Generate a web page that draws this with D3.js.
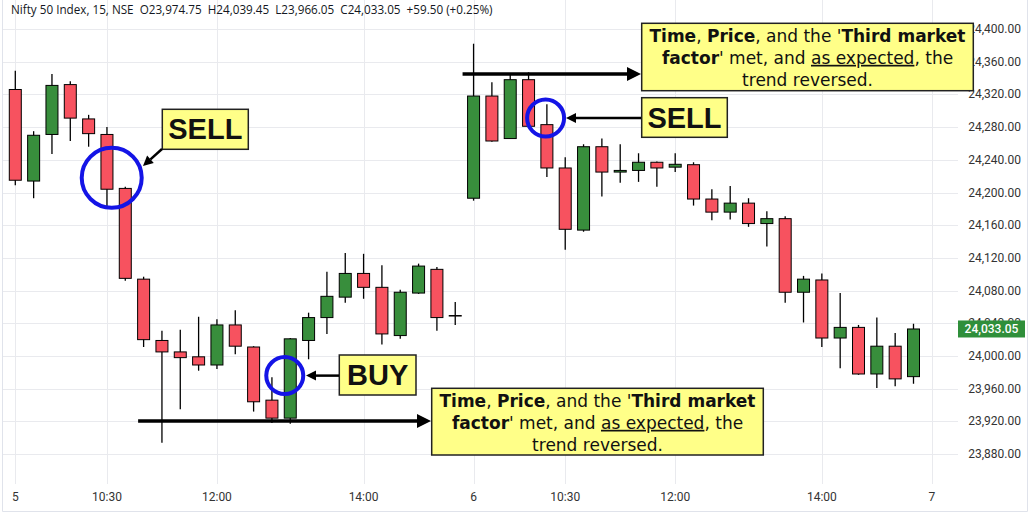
<!DOCTYPE html>
<html>
<head>
<meta charset="utf-8">
<script src="https://cdn.jsdelivr.net/npm/d3@7"></script>
<style>
  body { margin: 0; background: #fff; }
  svg { display: block; }
</style>
</head>
<body>
<svg id="chart" width="1031" height="518"></svg>
<script>
// 15 minute candles, Nifty 50, two sessions (index 0..49)
const opens = [24326, 24214, 24271, 24332, 24290, 24271, 24205, 24094, 24019, 24005,
  23999, 23989, 24038, 24011, 23946, 23924, 24019, 24047, 24072, 24101,
  24084, 24025, 24077, 24106, 24049.5,
  24193, 24318, 24266, 24338, 24283, 24230, 24154, 24256, 24225, 24227,
  24237, 24231, 24234, 24192, 24176, 24187, 24162, 24168, 24078, 24093,
  24022, 24035, 23978, 24012, 23974.75];
const highs = [24349, 24275, 24345, 24336, 24295, 24280, 24207, 24097, 24031, 24032,
  24048, 24045, 24056, 24012, 23974, 24022, 24053, 24103, 24126, 24125,
  24111, 24081, 24113, 24109, 24066,
  24382, 24335, 24346, 24347, 24308, 24243, 24259, 24266, 24259, 24248,
  24238, 24248, 24237, 24204, 24208, 24193, 24177, 24171, 24098, 24101,
  24077, 24038, 24047, 24028, 24039.45];
const lows = [24209, 24193, 24247, 24263, 24256, 24183, 24092, 24011, 23894, 23935,
  23982, 23984, 24002, 23932, 23918, 23917, 23996, 24027, 24065, 24070,
  24014, 24021, 24076, 24031, 24038,
  24190, 24262, 24266, 24279, 24219, 24130, 24152, 24195, 24212, 24213,
  24207, 24225, 24184, 24166, 24167, 24158, 24134, 24065, 24041, 24011,
  23985, 23977, 23961, 23963, 23966.05];
const closes = [24215, 24270, 24331, 24291, 24272, 24204, 24095, 24020, 24005, 23998,
  23989, 24038, 24012, 23944, 23924, 24021, 24047, 24073, 24101, 24084,
  24027, 24078, 24110, 24047, 24049,
  24318, 24263, 24338, 24281, 24230, 24155, 24256, 24225, 24227, 24237,
  24230, 24234.5, 24192, 24176, 24187, 24162, 24168, 24078, 24094, 24022,
  24035, 23978, 24012, 23972, 24033.05];

const timeTickIndex = [0, 5, 11, 19, 25, 30, 36, 44, 50];
const timeTickLabels = ["5", "10:30", "12:00", "14:00", "6", "10:30", "12:00", "14:00", "7"];
const priceTicks = [23880, 23920, 23960, 24000, 24040, 24080, 24120, 24160, 24200,
  24240, 24280, 24320, 24360, 24400];
const lastPrice = 24033.05;
const headerText = "Nifty 50 Index, 15, NSE  O23,974.75  H24,039.45  L23,966.05  C24,033.05  +59.50 (+0.25%)";

const upColor = "#388e3c";
const downColor = "#f7525f";
const gridColor = "#e9eaee";

const svg = d3.select("#chart");
const x = d3.scaleLinear().domain([0, 49]).range([15.3, 913.5]);
const y = d3.scaleLinear().domain([24000, 24400]).range([356, 29]);
const fmt = d3.format(",.2f");

// frame
svg.append("path")
  .attr("d", "M2.5,0V511.5H1027.5V0")
  .attr("fill", "none").attr("stroke", "#e0e3eb");

// grid
svg.append("g").selectAll("line").data(priceTicks).join("line")
  .attr("x1", 3).attr("x2", 958)
  .attr("y1", (d) => Math.round(y(d)) + 0.5).attr("y2", (d) => Math.round(y(d)) + 0.5)
  .attr("stroke", gridColor);
svg.append("g").selectAll("line").data(timeTickIndex).join("line")
  .attr("x1", (d) => Math.round(x(d)) + 0.5).attr("x2", (d) => Math.round(x(d)) + 0.5)
  .attr("y1", 0).attr("y2", 484)
  .attr("stroke", gridColor);

// price axis labels
svg.append("g").selectAll("text").data(priceTicks).join("text")
  .attr("x", 1021).attr("y", (d) => y(d) + 4)
  .attr("text-anchor", "end")
  .attr("font-family", "Roboto, sans-serif").attr("font-size", 12)
  .attr("fill", "#333")
  .text((d) => fmt(d));

// time axis labels
svg.append("g").selectAll("text").data(timeTickIndex).join("text")
  .attr("x", (d) => x(d)).attr("y", 501)
  .attr("text-anchor", "middle")
  .attr("font-family", "Roboto, sans-serif").attr("font-size", 12)
  .attr("fill", "#333")
  .text((d, i) => timeTickLabels[i]);

// candles
const candles = svg.append("g").selectAll("g").data(opens).join("g");
candles.append("line")
  .attr("x1", (d, i) => x(i)).attr("x2", (d, i) => x(i))
  .attr("y1", (d, i) => y(highs[i])).attr("y2", (d, i) => y(lows[i]))
  .attr("stroke", "#000").attr("stroke-width", 1.3);
candles.append("rect")
  .attr("x", (d, i) => x(i) - 6)
  .attr("width", 12)
  .attr("y", (d, i) => y(Math.max(opens[i], closes[i])))
  .attr("height", (d, i) => Math.max(0.5, Math.abs(y(opens[i]) - y(closes[i]))))
  .attr("fill", (d, i) => (closes[i] >= opens[i] ? upColor : downColor))
  .attr("stroke", "#000").attr("stroke-width", 1);

// last price tag
svg.append("rect").attr("x", 958).attr("y", y(lastPrice) - 8.5)
  .attr("width", 67).attr("height", 17).attr("fill", "#2f8f3a");
svg.append("text").attr("x", 991.5).attr("y", y(lastPrice) + 4.5)
  .attr("text-anchor", "middle")
  .attr("font-family", "Roboto, sans-serif").attr("font-size", 12).attr("font-weight", 500)
  .attr("fill", "#fff").text(fmt(lastPrice));

// header
svg.append("text").attr("x", 11).attr("y", 14)
  .attr("font-family", "'Open Sans', sans-serif").attr("font-size", 11.7)
  .attr("fill", "#131722")
  .style("white-space", "pre")
  .text(headerText);

// ---- annotations ----
const ann = svg.append("g");

function arrow(x1, y1, x2, y2, w, head) {
  const a = Math.atan2(y2 - y1, x2 - x1);
  const bx = x2 - head * Math.cos(a), by = y2 - head * Math.sin(a);
  ann.append("line").attr("x1", x1).attr("y1", y1).attr("x2", bx).attr("y2", by)
    .attr("stroke", "#000").attr("stroke-width", w);
  const hw = head * 0.5;
  const p = [[x2, y2],
    [bx + hw * Math.sin(a), by - hw * Math.cos(a)],
    [bx - hw * Math.sin(a), by + hw * Math.cos(a)]];
  ann.append("path").attr("d", "M" + p.join("L") + "Z").attr("fill", "#000");
}

function circle(cx, cy, r) {
  ann.append("circle").attr("cx", cx).attr("cy", cy).attr("r", r)
    .attr("fill", "none").attr("stroke", "#1414e6").attr("stroke-width", 4);
}

function box(x0, y0, w, h) {
  ann.append("rect").attr("x", x0).attr("y", y0).attr("width", w).attr("height", h)
    .attr("fill", "#ffff88").attr("stroke", "#222").attr("stroke-width", 1.5);
}

function label(x0, y0, w, h, txt) {
  box(x0, y0, w, h);
  ann.append("text").attr("x", x0 + w / 2).attr("y", y0 + h / 2 + 10)
    .attr("text-anchor", "middle")
    .attr("font-family", "'Liberation Sans', Arial, sans-serif")
    .attr("font-weight", "bold").attr("font-size", 29).attr("fill", "#111")
    .text(txt);
}

function noteBox(x0, y0, w, h) {
  box(x0, y0, w, h);
  const lines = [
    [["Time", "b"], [", ", ""], ["Price", "b"], [", and the '", ""], ["Third market", "b"]],
    [["factor", "b"], ["' met, and ", ""], ["as expected", "u"], [", the", ""]],
    [["trend reversed.", ""]]
  ];
  lines.forEach((ln, li) => {
    const t = ann.append("text")
      .attr("x", x0 + w / 2).attr("y", y0 + 18.5 + li * 22)
      .attr("text-anchor", "middle")
      .attr("font-family", "'DejaVu Sans', sans-serif").attr("font-size", 17).attr("fill", "#111")
      .style("white-space", "pre");
    ln.forEach((seg) => {
      const s = t.append("tspan").text(seg[0]);
      if (seg[1] === "b") s.attr("font-weight", "bold");
      if (seg[1] === "u") s.attr("text-decoration", "underline");
    });
  });
}

// first SELL
circle(x(5.26), y(24218), 30);
label(162.3, 109.3, 86, 40, "SELL");
arrow(162, 149, 143, 166, 2.5, 10);

// BUY
circle(x(14.7), y(23976), 18.5);
label(339.3, 355, 76.7, 40, "BUY");
arrow(339, y(23976), 306, y(23976), 2.5, 10);

// second SELL
circle(x(28.93), y(24291), 18.5);
label(641.7, 97.7, 85.6, 39.6, "SELL");
arrow(641, y(24291), 566, y(24291), 2.5, 10);

// top reversal note
arrow(x(24.4), y(24345), 641, y(24345), 3.5, 14);
noteBox(641.7, 23.3, 331.6, 67.4);

// bottom reversal note
arrow(x(6.7), y(23920.5), 431, y(23920.5), 3.5, 14);
noteBox(431.7, 388.3, 331.6, 66.7);
</script>
</body>
</html>
